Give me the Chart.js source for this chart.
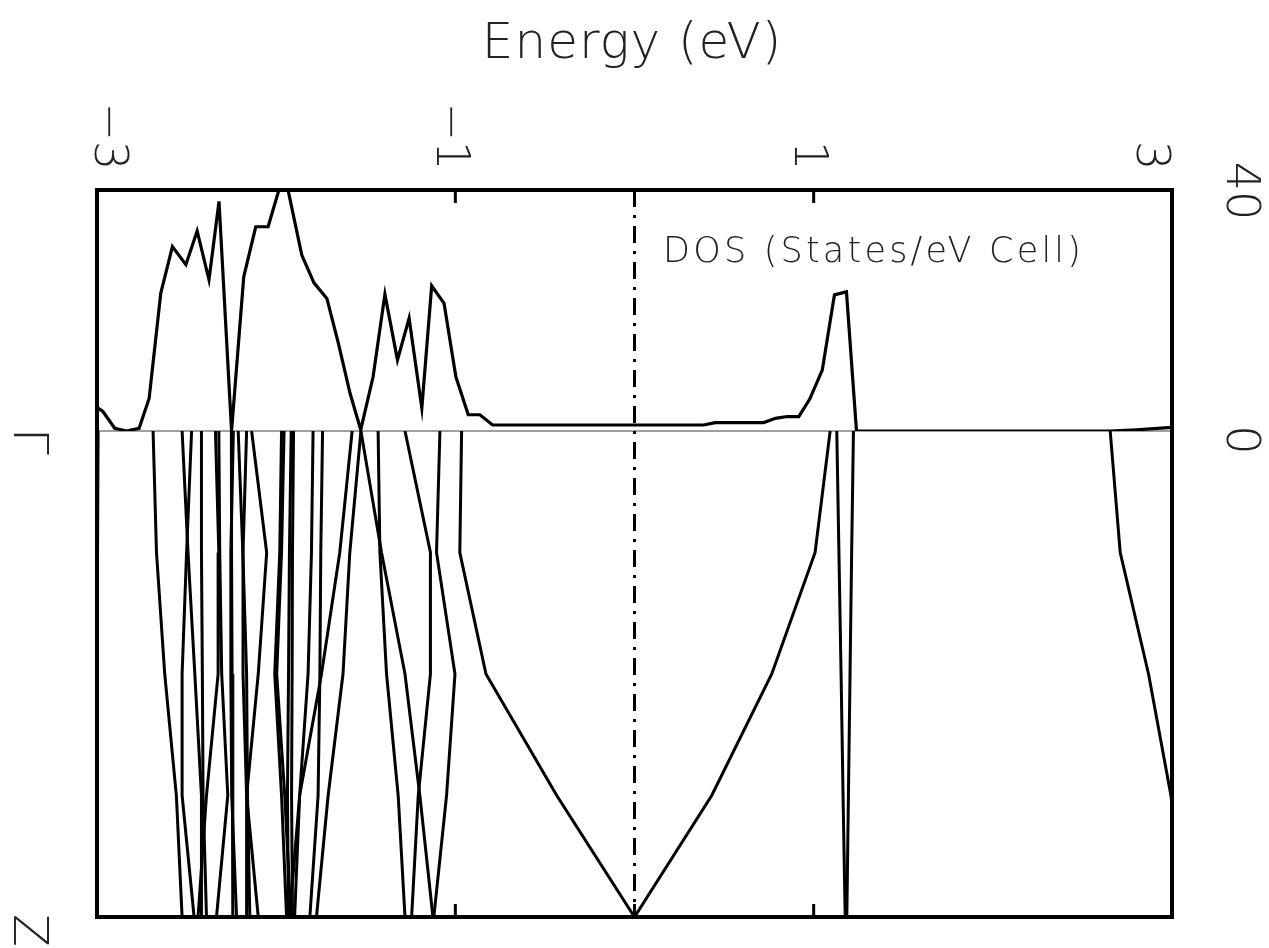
<!DOCTYPE html>
<html>
<head>
<meta charset="utf-8">
<script src="https://cdn.jsdelivr.net/npm/chart.js@4/dist/chart.umd.min.js"></script>
<style>
  html, body { margin: 0; padding: 0; background: #ffffff; }
  #wrap { width: 1269px; height: 948px; }
</style>
</head>
<body>
<div id="wrap"><canvas id="c" width="1269" height="948"></canvas></div>
<script>
// ---------------- data ----------------
const energyMin = -3, energyMax = 3;
const energyTickValues = [-3, -1, 1, 3];
const energyTickLabels = ['\u22123', '\u22121', '1', '3'];
const energyTickMarks = [-1, 0, 1];
const dosMin = 0, dosMax = 40;
const dosTickValues = [0, 40];
const dosTickLabels = ['0', '40'];
const kPoints = [0, 0.25, 0.5, 0.75, 1];
const kLabelValues = [0, 1];
const kLabels = ['\u0393', 'Z'];
const titleText = 'Energy (eV)';
const dosLabelText = 'DOS (States/eV Cell)';

// density of states curve
const dosEnergy = [-2.994, -2.966, -2.901, -2.836, -2.765, -2.709, -2.644, -2.579, -2.504, -2.441,
  -2.375, -2.319, -2.249, -2.181, -2.114, -2.045, -1.955, -1.857, -1.789, -1.717,
  -1.653, -1.588, -1.528, -1.459, -1.393, -1.323, -1.258, -1.187, -1.132, -1.063,
  -0.997, -0.928, -0.863, -0.792, -0.5, 0.0, 0.386, 0.451, 0.721, 0.787,
  0.852, 0.917, 0.978, 1.048, 1.116, 1.183, 1.239, 2.657, 2.8, 3.0];
const dosValue = [3.8, 3.2, 0.45, 0.0, 0.45, 5.4, 22.9, 30.6, 27.6, 33.2,
  25.1, 38.1, 0.0, 25.6, 33.9, 33.9, 43.0, 29.2, 24.6, 22.0,
  14.6, 6.3, 0.2, 9.0, 22.7, 11.8, 18.7, 3.8, 24.1, 21.2,
  9.0, 2.7, 2.7, 1.0, 1.0, 1.0, 1.0, 1.4, 1.4, 2.1,
  2.4, 2.4, 5.3, 10.1, 22.6, 23.1, 0.0, 0.0, 0.2, 0.6];

// band energies (eV) at each k point from Gamma to Z
const bandEnergies = [
  [-2.994, -2.997, -3.000, -3.003, -3.006],
  [-2.687, -2.668, -2.622, -2.557, -2.525],
  [-2.525, -2.492, -2.454, -2.417, -2.417],
  [-2.472, -2.500, -2.525, -2.525, -2.458],
  [-2.417, -2.417, -2.412, -2.408, -2.389],
  [-2.339, -2.320, -2.324, -2.389, -2.436],
  [-2.320, -2.315, -2.304, -2.270, -2.333],
  [-2.250, -2.249, -2.246, -2.243, -2.241],
  [-2.239, -2.253, -2.253, -2.248, -2.221],
  [-2.212, -2.186, -2.165, -2.160, -2.147],
  [-2.165, -2.185, -2.185, -2.165, -2.165],
  [-2.137, -2.053, -2.100, -2.165, -2.100],
  [-1.970, -1.980, -2.008, -1.970, -1.942],
  [-1.956, -1.970, -1.997, -1.952, -1.918],
  [-1.916, -1.926, -1.931, -1.937, -1.931],
  [-1.903, -1.909, -1.911, -1.914, -1.909],
  [-1.794, -1.803, -1.822, -1.869, -1.897],
  [-1.741, -1.751, -1.756, -1.766, -1.812],
  [-1.576, -1.645, -1.747, -1.869, -1.925],
  [-1.527, -1.589, -1.627, -1.710, -1.775],
  [-1.527, -1.412, -1.281, -1.198, -1.125],
  [-1.431, -1.421, -1.384, -1.319, -1.281],
  [-1.281, -1.139, -1.139, -1.207, -1.244],
  [-1.086, -1.105, -1.002, -1.049, -1.120],
  [-0.965, -0.975, -0.829, -0.434, 0.000],
  [1.092, 1.008, 0.766, 0.431, 0.000],
  [1.129, 1.141, 1.153, 1.164, 1.176],
  [1.222, 1.212, 1.203, 1.194, 1.185],
  [2.655, 2.711, 2.869, 2.994, 3.074]
];

// ---------------- chart ----------------
const FONT = "'DejaVu Sans', 'Liberation Sans', sans-serif";
const TEXT_COLOR = '#222222';

const datasets = [];
datasets.push({
  label: 'DOS',
  data: dosEnergy.map((e, i) => ({ x: e, y: dosValue[i] })),
  xAxisID: 'x', yAxisID: 'yDos',
  borderColor: '#000000', borderWidth: 3.2, pointRadius: 0, tension: 0,
  showLine: true, fill: false, clip: 0
});
bandEnergies.forEach((band, b) => {
  datasets.push({
    label: 'band ' + (b + 1),
    data: band.map((e, i) => ({ x: e, y: kPoints[i] })),
    xAxisID: 'x', yAxisID: 'yBand',
    borderColor: '#000000', borderWidth: 3, pointRadius: 0, tension: 0,
    showLine: true, fill: false, clip: 0
  });
});

function rotText(ctx, text, x, y, align, baseline) {
  ctx.save();
  ctx.translate(x, y);
  ctx.rotate(Math.PI / 2);
  ctx.textAlign = align;
  ctx.textBaseline = baseline;
  ctx.fillText(text, 0, 0);
  ctx.restore();
}

const decor = {
  id: 'decor',
  beforeDatasetsDraw(chart) {
    const { ctx, chartArea: a, scales } = chart;
    const x = scales.x, yDos = scales.yDos;
    ctx.save();
    // zero line of DOS axis
    ctx.strokeStyle = '#808080';
    ctx.lineWidth = 1.5;
    ctx.beginPath();
    const y0 = yDos.getPixelForValue(0);
    ctx.moveTo(a.left, y0); ctx.lineTo(a.right, y0);
    ctx.stroke();
    // Fermi level dash-dot line
    const xf = x.getPixelForValue(0);
    ctx.strokeStyle = '#000000';
    ctx.lineWidth = 3;
    ctx.setLineDash([17, 8, 3, 8]);
    ctx.beginPath();
    ctx.moveTo(xf, a.top); ctx.lineTo(xf, a.bottom);
    ctx.stroke();
    ctx.restore();
  },
  afterDatasetsDraw(chart) {
    const { ctx, chartArea: a, scales } = chart;
    const x = scales.x, yDos = scales.yDos, yBand = scales.yBand;
    ctx.save();
    // frame
    ctx.strokeStyle = '#000000';
    ctx.lineWidth = 4;
    ctx.strokeRect(a.left, a.top, a.right - a.left, a.bottom - a.top);
    // inner tick marks top and bottom
    ctx.lineWidth = 3;
    energyTickMarks.forEach(v => {
      const px = x.getPixelForValue(v);
      ctx.beginPath();
      ctx.moveTo(px, a.top); ctx.lineTo(px, a.top + 13);
      ctx.moveTo(px, a.bottom); ctx.lineTo(px, a.bottom - 13);
      ctx.stroke();
    });
    // texts
    ctx.fillStyle = TEXT_COLOR;
    // title
    ctx.font = '200 50px ' + FONT;
    ctx.textAlign = 'center';
    ctx.textBaseline = 'alphabetic';
    ctx.letterSpacing = '1px';
    ctx.fillText(titleText, 632, 58);
    // DOS label
    ctx.font = '200 35px ' + FONT;
    ctx.textAlign = 'left';
    ctx.letterSpacing = '3.2px';
    ctx.fillText(dosLabelText, 663, 262);
    ctx.letterSpacing = '0px';
    // energy tick labels (rotated)
    const tickSize = 46, cap = tickSize * 0.73;
    ctx.font = '200 ' + tickSize + 'px ' + FONT;
    energyTickValues.forEach((v, i) => {
      let cx = x.getPixelForValue(v);
      cx = Math.min(Math.max(cx - 2, a.left + 15), a.right - 18);
      const txt = energyTickLabels[i];
      const sign = txt.startsWith('\u2212') ? '\u2212' : '';
      const signW = sign ? ctx.measureText(sign).width : 0;
      rotText(ctx, txt, cx - cap / 2, 141 - signW, 'left', 'alphabetic');
    });
    // DOS tick labels on the right (rotated)
    const dosOffsets = [9, 1];
    dosTickValues.forEach((v, i) => {
      const py = yDos.getPixelForValue(v) + dosOffsets[i];
      rotText(ctx, dosTickLabels[i], 1243.5 - cap / 2, py, 'center', 'alphabetic');
    });
    // k-point labels on the left (rotated)
    const kSize = 48, kcap = kSize * 0.73;
    ctx.font = '200 ' + kSize + 'px ' + FONT;
    kLabelValues.forEach((v, i) => {
      const py = yBand.getPixelForValue(v);
      rotText(ctx, kLabels[i], 32 - kcap / 2, py - 3, 'left', 'alphabetic');
    });
    ctx.restore();
  }
};

new Chart(document.getElementById('c'), {
  type: 'scatter',
  data: { datasets },
  options: {
    responsive: false,
    animation: false,
    events: [],
    layout: { padding: { left: 97, right: 97, top: 190, bottom: 31 } },
    plugins: { legend: { display: false }, tooltip: { enabled: false }, title: { display: false } },
    scales: {
      x: { type: 'linear', min: energyMin, max: energyMax, display: false },
      yDos: { type: 'linear', position: 'left', stack: 'main', stackWeight: 241, weight: 2,
              min: dosMin, max: dosMax, display: false },
      yBand: { type: 'linear', position: 'left', stack: 'main', stackWeight: 486, weight: 1,
               min: 0, max: 1, reverse: true, display: false }
    }
  },
  plugins: [decor]
});
</script>
</body>
</html>
